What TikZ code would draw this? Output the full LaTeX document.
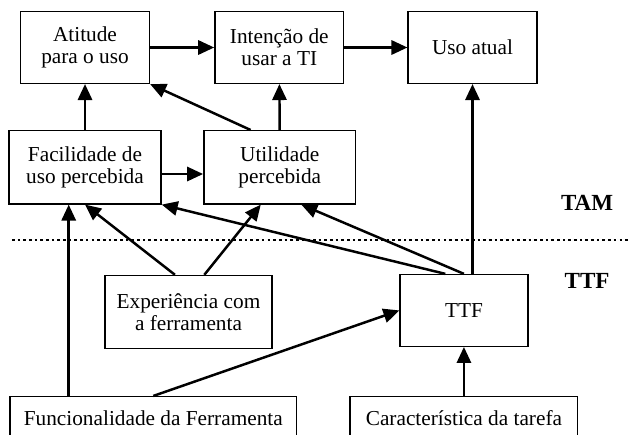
\documentclass[tikz,border=0pt]{standalone}
\usepackage{fontspec}
\setmainfont{Liberation Serif}
\usetikzlibrary{arrows.meta, positioning}

\begin{document}
\begin{tikzpicture}[
	node distance=1cm and 1cm,
	block/.style={rectangle, draw, line width=0.8pt, align=center, inner sep=2pt,
		minimum width=2.55cm, minimum height=1.42cm, font=\fontsize{12}{12.4}\selectfont},
	wideblock/.style={block, minimum width=3.01cm, minimum height=1.45cm},
	line/.style={draw, line width=1.4pt, -{Triangle[length=9pt, width=8pt]}},
	sidelabel/.style={font=\fontsize{13}{15}\selectfont\bfseries},
	sepline/.style={line width=1.5pt, dash pattern=on 1.5pt off 1.7pt},
	]
	
	\useasboundingbox (-1.684,0.941) rectangle (10.796,-7.676);
	
	\node [block] (att) {Atitude\\para o uso};
	\node [block, right=1.27cm of att] (int) {Intenção de\\usar a TI};
	\node [block, right=1.25cm of int] (uso) {Uso atual};
	\node [wideblock, below=0.91cm of att] (fac) {Facilidade de\\uso percebida};
	\node [wideblock, right=0.82cm of fac] (util) {Utilidade\\percebida};
	\node [wideblock, minimum width=3.31cm, below=1.39cm of fac, xshift=2.05cm] (exp) {Experiência com\\a ferramenta};
	\node [block, minimum width=2.53cm, below=3.76cm of uso, xshift=-0.17cm] (ttf) {TTF};
	\node [block, minimum width=4.51cm, minimum height=0.87cm, below=0.97cm of ttf] (car) {Característica da tarefa};
	\node [block, minimum width=5.68cm, minimum height=0.87cm, left=1.03cm of car] (func) {Funcionalidade da Ferramenta};
	
	\node [sidelabel] (tamlbl) at (9.945,-3.08) {TAM};
	\node [sidelabel] (ttflbl) at (9.945,-4.626) {TTF};
	
	% separation TAM / TTF
	\coordinate (sepL) at (-1.446,-3.81);
	\coordinate (sepR) at (10.796,-3.81);
	\draw [sepline] (sepL) -- (sepR);
	
	\path [line] (att) -- (int);
	\path [line] (int) -- (uso);
	\path [line] (fac) -- (att);
	\path [line] (util.128) -- (att.south east);
	\path [line] (util) -- (int);
	\path [line] (fac.-5) -- (fac.-5 -| util.west);
	\path [line] (func.165) -- (func.165 |- fac.south);
	\path [line] (exp.110) -- (fac.south);
	\path [line] (exp.67) -- (util.243);
	\path [line] (ttf.117) -- (fac.south east);
	\path [line] (ttf.north) -- (util.300);
	\path [line] (uso |- ttf.north) -- (uso);
	\path [line] (func.north) -- (ttf.west);
	\path [line] (car) -- (ttf);
\end{tikzpicture}
\end{document}
